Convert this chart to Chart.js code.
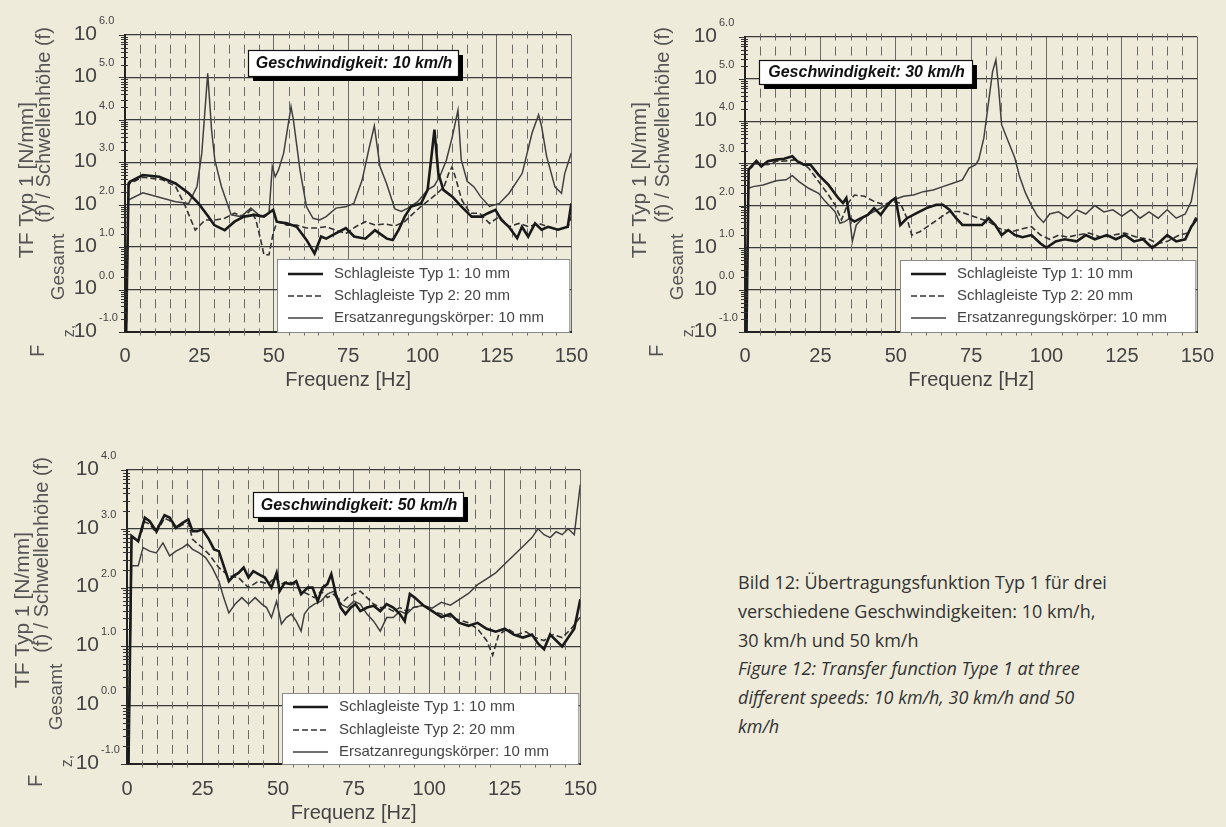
<!DOCTYPE html>
<html>
<head>
<meta charset="utf-8">
<script src="https://cdn.jsdelivr.net/npm/chart.js@4.4.0/dist/chart.umd.min.js"></script>
<style>
  html, body { margin: 0; padding: 0; background: #eeebda; width: 1226px; height: 827px; overflow: hidden; }
  canvas { position: absolute; }
  #caption { position: absolute; left: 738px; top: 568px; font-family: 'Open Sans', 'Noto Sans', sans-serif; font-size: 18px; line-height: 28.8px; color: #333; white-space: nowrap; }
</style>
</head>
<body>
<canvas id="c1" width="600" height="400" style="left:0;top:0;width:600px;height:400px"></canvas>
<canvas id="c2" width="606" height="400" style="left:620px;top:0;width:606px;height:400px"></canvas>
<canvas id="c3" width="610" height="407" style="left:0;top:420px;width:610px;height:407px"></canvas>
<div id="caption">Bild 12: Übertragungsfunktion Typ 1 für drei<br>verschiedene Geschwindigkeiten: 10 km/h,<br>30 km/h und 50 km/h<br><i>Figure 12: Transfer function Type 1 at three<br>different speeds: 10 km/h, 30 km/h and 50<br>km/h</i></div>
<script>
// ---- Data (frequency in Hz, value as decade exponent of TF) ----
const seriesLabels = ['Schlagleiste Typ 1: 10 mm', 'Schlagleiste Typ 2: 20 mm', 'Ersatzanregungskörper: 10 mm'];
const xTicks = [0, 25, 50, 75, 100, 125, 150];

// 10 km/h
const c1Typ1F = [0.4,1.2,1.6,6,11.5,17,21.4,24.7,28,30,33.5,36.8,40,43.4,46.7,49.8,51,54.4,57.7,61,63.7,65.9,67.6,71,74.2,77,80.8,84,86,88,90,92,94,96.2,99.5,101.7,103,104,105.3,107,110,113,116.5,119.8,122,124.5,126.5,129,131.8,133.4,135.5,137.8,140,142.2,145.5,148.8,150];
const c1Typ1V = [-1,2.5,2.54,2.7,2.66,2.5,2.27,2.03,1.72,1.52,1.4,1.6,1.72,1.76,1.72,1.88,1.6,1.56,1.48,1.17,0.85,1.25,1.2,1.33,1.45,1.25,1.2,1.4,1.3,1.2,1.17,1.41,1.72,1.96,2.03,2.35,3.14,3.77,2.74,2.35,2.19,1.96,1.72,1.72,1.8,1.88,1.64,1.48,1.21,1.48,1.25,1.56,1.41,1.48,1.41,1.48,2.03];
const c1Typ2F = [0.4,1.2,1.6,6,12.6,17,20.3,23.6,26.9,30.2,33.5,36.8,40.1,42.3,44,45.6,46.7,48.4,49.8,51.1,54.4,57.7,61,64.3,67.6,70.9,74.2,77.5,80.8,84.1,87.4,90.7,94,96.2,99.5,102.2,105,107.2,108.8,109.9,111,113.2,116,119.2,122.5,125.8,129.1,132.4,135.7,139,142.3,145.6,148.9,150];
const c1Typ2V = [-1,2.45,2.5,2.65,2.59,2.43,1.96,1.4,1.64,1.64,1.68,1.8,1.72,1.88,1.64,1.17,0.82,0.82,1.33,1.6,1.52,1.52,1.45,1.45,1.48,1.4,1.32,1.48,1.6,1.52,1.55,1.5,1.6,1.75,1.96,2.11,2.27,2.42,2.74,2.89,2.66,2.11,1.8,1.8,1.56,1.72,1.48,1.56,1.48,1.56,1.48,1.41,1.48,1.72];
const c1ErsF = [0.4,1.1,6,17,21.4,24.2,25.8,27.8,29.1,30.2,32.4,35.7,39,42.3,45.6,48.4,49.5,50.5,51.6,53.3,55.8,56.6,58.8,61,63.2,65.4,67.6,70.9,74.2,76.9,79.7,81.9,83.8,85.7,87.9,90.7,92.9,95.1,98.4,101.7,104,106,108,110,111.9,113,115,117.3,119.5,122.5,125.8,129.1,133.5,136.8,139,140,141.7,144.5,146.7,147.8,150];
const c1ErsV = [-1,2.11,2.28,2.07,2.03,2.43,3.21,5.1,3.76,3.05,2.43,1.76,1.72,1.92,1.72,1.8,2.9,2.66,2.82,3.21,4.31,4.0,2.82,1.95,1.68,1.64,1.72,1.92,1.95,2.03,2.58,3.29,3.86,2.9,2.5,1.9,1.84,1.92,2.07,2.35,2.45,2.7,3.05,3.6,4.23,3.06,2.55,2.42,2.19,1.96,2.03,2.27,2.74,3.69,4.12,3.85,3.14,2.42,2.27,2.74,3.22];

// 30 km/h
const c2Typ1F = [0.5,1.2,1.6,3.8,5.4,7.6,10.3,13,15.7,17.4,19.5,21.7,24.4,27.7,30.9,32.5,33.6,34.7,36.3,38.5,40.7,42.8,45,46.6,48.3,49.9,51.5,53.7,56.9,60.2,63.4,65.6,67.8,70,72.1,75.4,78.6,80.8,83,85.1,87.3,89.5,92,95,98,100,103,106,110,113,116,120,123,126,129,132,135,137,140,143,146,148,150];
const c2Typ1V = [-1,2.85,2.89,3.06,2.93,3.05,3.09,3.11,3.17,3.05,2.97,2.97,2.73,2.49,2.18,2.06,2.18,1.7,1.62,1.7,1.78,1.94,1.78,1.94,2.1,2.18,1.54,1.7,1.82,1.94,2.02,2.02,1.9,1.7,1.54,1.54,1.54,1.7,1.54,1.3,1.42,1.3,1.25,1.3,1.1,1.0,1.15,1.2,1.15,1.3,1.2,1.3,1.2,1.3,1.15,1.2,1.0,1.1,1.3,1.15,1.2,1.5,1.7];
const c2Typ2F = [0.5,1.2,3.8,7.6,10.3,13.6,16.8,19,21.1,24.4,27.7,29.8,32,34.2,36.3,39.6,42.8,46.1,48.8,51.5,53.7,55.3,58,61.3,64.5,67.8,71,74.3,77.5,80.8,84.1,88.4,92,95,98,101,104,107,110,114,118,122,126,130,134,137,140,144,147,150];
const c2Typ2V = [-1,2.85,3.0,2.97,3.05,3.06,3.09,3.0,2.89,2.57,2.25,2.02,1.66,2.06,2.25,2.22,2.1,2.02,2.1,2.06,1.7,1.3,1.38,1.54,1.7,1.86,1.86,1.78,1.7,1.62,1.46,1.38,1.45,1.5,1.3,1.2,1.3,1.25,1.3,1.35,1.25,1.3,1.35,1.25,1.2,1.1,1.15,1.3,1.35,1.8];
const c2ErsF = [0.5,1.1,2.7,6,10.3,13.6,15.7,17.9,21.1,24.4,26.6,29.8,31.5,33.1,34.7,35.6,36.9,39.6,42.8,46.1,49.3,52.6,55.9,59.1,62.4,65.6,68.9,72.1,74.3,76.5,77.5,79.2,80.8,82.1,83.2,84.1,85.1,87.3,89.5,91,93,95,97,99,101,104,107,110,113,116,119,122,125,128,131,134,137,140,143,146,148,150];
const c2ErsV = [-1,2.41,2.45,2.49,2.59,2.61,2.71,2.57,2.41,2.29,2.1,1.86,1.58,1.62,1.7,1.15,1.54,1.74,1.86,1.98,2.14,2.22,2.25,2.33,2.37,2.45,2.53,2.61,2.89,2.97,3.09,3.6,4.47,5.18,5.46,4.79,3.92,3.52,3.13,2.7,2.3,2.0,1.75,1.6,1.8,1.85,1.7,1.9,1.8,2.0,1.85,1.9,1.75,1.9,1.7,1.85,1.7,1.9,1.7,1.8,2.1,2.9];

// 50 km/h
const c3Typ1F = [0.5,1.5,3.7,5.9,7.5,9.7,12.4,14.1,16.2,18.4,20.3,21.7,23.3,24.9,27.1,28.8,30.4,32,33.7,35.3,36.9,38.6,40.2,41.8,43.5,45.6,47.8,49.5,50.5,52.2,54.4,56,57.6,59.8,61.4,63.1,64.7,66.3,67.6,69.1,70.7,72.3,74,75.6,77.2,79.4,81.6,83.8,85.9,88.1,90.3,91.9,93.6,95.2,98,101,104,107,110,113,116,119,122,125,128,131,134,136,138,140,142,144,146,148,150];
const c3Typ1V = [-1,2.88,2.79,3.19,3.13,2.96,3.23,3.19,3.02,3.1,3.16,2.96,2.96,2.99,2.82,2.65,2.62,2.37,2.11,2.2,2.25,2.34,2.17,2.28,2.23,2.17,2.0,2.25,1.94,2.08,2.06,2.11,1.89,2.0,2.0,1.77,2.0,2.06,2.23,1.89,1.66,1.55,1.66,1.72,1.6,1.66,1.69,1.6,1.72,1.66,1.55,1.43,1.89,1.83,1.7,1.6,1.5,1.55,1.4,1.35,1.4,1.3,1.25,1.3,1.2,1.15,1.2,1.05,0.95,1.2,1.1,1.0,1.15,1.3,1.8];
const c3Typ2F = [0.5,1.5,3.7,5.9,7.5,9.7,12.4,14.1,16.2,18.4,20.3,21.7,24.9,27.1,30.4,33.7,36.9,40.2,43.5,46.7,48.9,51.1,53.3,55.4,57.6,59.8,62,64.2,66.3,68.5,70.7,72.9,75.1,77.2,79.4,81.6,83.8,85.9,88.1,90.3,92.5,94.7,98,101,104,107,110,113,116,119,121,123,126,129,132,135,138,141,144,147,150];
const c3Typ2V = [-1,2.85,2.8,3.12,3.08,2.93,3.18,3.14,3.0,3.07,3.1,2.82,2.68,2.57,2.34,2.2,2.17,2.0,2.11,2.06,2.17,2.06,2.11,2.06,1.94,1.89,1.83,1.94,1.83,1.89,1.72,1.83,1.89,1.94,1.83,1.72,1.66,1.66,1.6,1.66,1.6,1.66,1.7,1.6,1.55,1.5,1.45,1.4,1.3,1.1,0.85,1.2,1.3,1.2,1.25,1.15,1.1,1.2,1.15,1.3,1.5];
const c3ErsF = [0.5,1.5,3.7,5.3,7.5,9.7,11.9,14.1,16.2,18.4,20,21.7,23.9,26,28.2,30.4,32,33.7,35.8,38,40.2,42.4,44.6,46.2,47.8,49.5,51.1,52.7,54.4,56,57.6,58.7,60.3,62,64.2,66.3,68.5,70.7,72.9,75.1,77.2,79.4,81.6,83.8,85.9,88.1,90.3,92.5,94.7,98,101,104,107,110,113,116,119,122,125,128,131,134,136,138,140,142,144,146,148,150];
const c3ErsV = [-1,2.37,2.37,2.68,2.62,2.59,2.76,2.54,2.62,2.68,2.74,2.65,2.59,2.51,2.34,2.11,1.83,1.57,1.72,1.83,1.72,1.83,1.72,1.66,1.49,1.77,1.38,1.49,1.55,1.43,1.26,1.55,1.66,1.72,1.77,1.89,1.94,1.72,1.66,1.77,1.72,1.55,1.43,1.26,1.49,1.49,1.6,1.55,1.66,1.7,1.65,1.75,1.7,1.8,1.9,2.05,2.15,2.25,2.4,2.55,2.7,2.85,3.0,2.9,2.85,2.95,2.9,3.0,2.9,3.75];

// ---- Drawing ----
const FONT = "'Liberation Sans', Arial, Helvetica, sans-serif";
Chart.defaults.font.family = FONT;
const zip = (f, v) => f.map((x, i) => ({ x: x, y: v[i] }));

const decoPlugin = {
  id: 'deco',
  beforeDatasetsDraw(chart, args, o) {
    const { ctx, scales: { x, y } } = chart;
    ctx.save();
    ctx.strokeStyle = '#6a6a6a';
    ctx.lineWidth = 1;
    ctx.beginPath();
    for (let f = 5; f < 150; f += 5) {
      if (f % 25 === 0) continue;
      const px = Math.round(x.getPixelForValue(f)) + 0.5;
      for (let k = y.min; k <= y.max; k++) {
        const py = y.getPixelForValue(k);
        ctx.moveTo(px, py - 3.5); ctx.lineTo(px, py + 3.5);
        if (k < y.max) {
          const h = py - y.getPixelForValue(k + 1);
          for (let j = 1; j <= o.dashes; j++) {
            const c = py - h * j / (o.dashes + 1);
            ctx.moveTo(px, c - 4.5); ctx.lineTo(px, c + 4.5);
          }
        }
      }
    }
    ctx.stroke();
    ctx.restore();
  },
  afterDatasetsDraw(chart, args, o) {
    const { ctx, chartArea: a, scales: { y } } = chart;
    ctx.save();
    // minor log ticks on the left axis
    ctx.strokeStyle = '#333';
    ctx.lineWidth = 1;
    ctx.beginPath();
    for (let k = y.min; k < y.max; k++) {
      for (let m = 2; m <= 9; m++) {
        const py = Math.round(y.getPixelForValue(k + Math.log10(m))) + 0.5;
        ctx.moveTo(a.left - 4, py); ctx.lineTo(a.left + 3, py);
      }
    }
    for (let k = y.min; k <= y.max; k++) {
      const py = Math.round(y.getPixelForValue(k)) + 0.5;
      ctx.moveTo(a.left - 6, py); ctx.lineTo(a.left, py);
    }
    ctx.stroke();

    // y tick labels 10^k.0
    ctx.fillStyle = '#444';
    for (let k = y.min; k <= y.max; k++) {
      const py = y.getPixelForValue(k);
      ctx.font = '21px ' + FONT;
      ctx.textAlign = 'right'; ctx.textBaseline = 'middle';
      ctx.fillText('10', a.left - 28, py - 1);
      ctx.font = '11px ' + FONT;
      ctx.textAlign = 'left';
      ctx.fillText(k.toFixed(1), a.left - 26, py - 14);
    }

    // y axis title (rotated)
    ctx.fillStyle = '#555';
    o.yTitle.forEach(t => {
      ctx.save();
      ctx.translate(t.x, t.y);
      ctx.rotate(-Math.PI / 2);
      ctx.font = t.s + 'px ' + FONT;
      ctx.textAlign = 'center'; ctx.textBaseline = 'middle';
      ctx.fillText(t.t, 0, 0);
      ctx.restore();
    });

    // speed box with shadow
    const b = o.box;
    ctx.fillStyle = '#000';
    ctx.fillRect(b.x + 5, b.y + 5, b.w, b.h);
    ctx.fillStyle = '#fff';
    ctx.fillRect(b.x, b.y, b.w, b.h);
    ctx.strokeStyle = '#111'; ctx.lineWidth = 1.2;
    ctx.strokeRect(b.x + 0.5, b.y + 0.5, b.w, b.h);
    ctx.fillStyle = '#111';
    ctx.font = 'italic bold 16px ' + FONT;
    ctx.textAlign = 'center'; ctx.textBaseline = 'middle';
    ctx.fillText(b.text, b.x + b.w / 2 + 1, b.y + b.h / 2 + 1);

    // legend
    const L = o.legend;
    const lx = a.left + L.dx, ly = a.bottom - L.h;
    ctx.fillStyle = '#fff';
    ctx.fillRect(lx, ly, a.right - 2 - lx, a.bottom - ly);
    ctx.strokeStyle = '#8a8a8a'; ctx.lineWidth = 1;
    ctx.strokeRect(lx + 0.5, ly + 0.5, a.right - 2 - lx, a.bottom - ly);
    chart.data.datasets.forEach((ds, i) => {
      const ry = a.bottom - L.rows[i];
      ctx.strokeStyle = ds.borderColor;
      ctx.lineWidth = ds.borderWidth;
      ctx.setLineDash(ds.borderDash || []);
      ctx.beginPath();
      ctx.moveTo(lx + 11, ry); ctx.lineTo(lx + 46, ry);
      ctx.stroke();
      ctx.setLineDash([]);
      ctx.fillStyle = '#444';
      ctx.font = '15px ' + FONT;
      ctx.textAlign = 'left'; ctx.textBaseline = 'middle';
      ctx.fillText(ds.label, lx + 57, ry);
    });
    ctx.restore();
  }
};

function makeChart(id, p) {
  const el = document.getElementById(id);
  const W = el.width, H = el.height;
  return new Chart(el, {
    type: 'line',
    data: {
      datasets: [
        { label: seriesLabels[0], data: zip(p.f[0], p.v[0]), borderColor: '#1a1a1a', borderWidth: 2.6 },
        { label: seriesLabels[1], data: zip(p.f[1], p.v[1]), borderColor: '#333333', borderWidth: 1.6, borderDash: [6, 3] },
        { label: seriesLabels[2], data: zip(p.f[2], p.v[2]), borderColor: '#404040', borderWidth: 1.5 }
      ]
    },
    options: {
      responsive: false,
      devicePixelRatio: 1,
      animation: false,
      events: [],
      elements: { point: { radius: 0 }, line: { tension: 0, fill: false } },
      layout: { padding: { left: 0, top: p.T, right: W - p.R, bottom: 0 } },
      plugins: {
        legend: { display: false },
        tooltip: { enabled: false },
        deco: { dashes: p.dashes, box: p.box, legend: p.legend, yTitle: p.yTitle }
      },
      scales: {
        x: {
          type: 'linear', min: 0, max: 150,
          afterBuildTicks: s => { s.ticks = xTicks.map(v => ({ value: v })); },
          afterFit: s => { s.height = H - p.B; },
          ticks: { font: { size: 20 }, color: '#444', padding: p.tp, maxRotation: 0, autoSkip: false },
          grid: { color: '#6a6a6a', lineWidth: 1, drawTicks: false },
          border: { color: '#222', width: 2 },
          title: { display: true, text: 'Frequenz [Hz]', font: { size: 20 }, color: '#444', padding: { top: 0, bottom: p.pb } }
        },
        y: {
          type: 'linear', min: p.ymin, max: p.ymax,
          ticks: { display: false, stepSize: 1 },
          afterFit: s => { s.width = p.L; },
          grid: { color: '#3a3a3a', lineWidth: 1.3, drawTicks: false },
          border: { color: '#222', width: 2 }
        }
      }
    },
    plugins: [decoPlugin]
  });
}

const titleParts = (dx, dy, tfx) => [
  { t: 'TF Typ 1 [N/mm]', x: tfx + dx, y: 180 + dy, s: 21 },
  { t: '(f) / Schwellenhöhe (f)', x: 44 + dx, y: 125 + dy, s: 20 },
  { t: 'Gesamt', x: 59 + dx, y: 267 + dy, s: 19 },
  { t: 'z,', x: 70 + dx, y: 331 + dy, s: 16 },
  { t: 'F', x: 38 + dx, y: 351 + dy, s: 20 }
];

makeChart('c1', {
  f: [c1Typ1F, c1Typ2F, c1ErsF], v: [c1Typ1V, c1Typ2V, c1ErsV],
  ymin: -1, ymax: 6, L: 125, R: 580, T: 35, B: 332, tp: 12, pb: 8, dashes: 2,
  box: { x: 248, y: 50, w: 210, h: 26, text: 'Geschwindigkeit: 10 km/h' },
  legend: { dx: 152, h: 73, rows: [58, 36, 14] },
  yTitle: titleParts(0, 0, 27)
});
makeChart('c2', {
  f: [c2Typ1F, c2Typ2F, c2ErsF], v: [c2Typ1V, c2Typ2V, c2ErsV],
  ymin: -1, ymax: 6, L: 125, R: 586, T: 37, B: 332, tp: 12, pb: 8, dashes: 2,
  box: { x: 139, y: 60, w: 213, h: 24, text: 'Geschwindigkeit: 30 km/h' },
  legend: { dx: 155, h: 72, rows: [58, 36, 14] },
  yTitle: titleParts(-1, 0, 21)
});
makeChart('c3', {
  f: [c3Typ1F, c3Typ2F, c3ErsF], v: [c3Typ1V, c3Typ2V, c3ErsV],
  ymin: -1, ymax: 4, L: 127, R: 586, T: 50, B: 344, tp: 13, pb: 2, dashes: 3,
  box: { x: 253, y: 72, w: 210, h: 25, text: 'Geschwindigkeit: 50 km/h' },
  legend: { dx: 155, h: 71, rows: [57, 34, 12] },
  yTitle: titleParts(-2, 10, 25)
});
</script>
</body>
</html>
